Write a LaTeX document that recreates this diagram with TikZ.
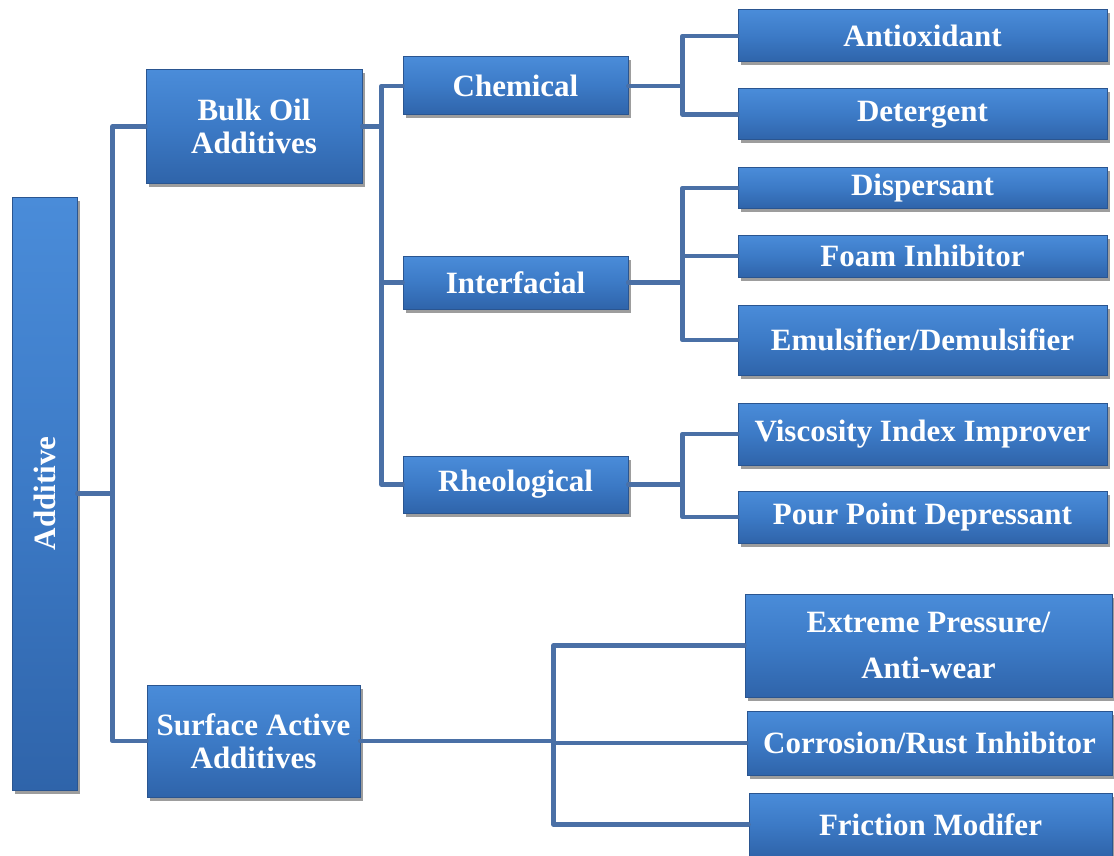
\documentclass[tikz,border=0pt]{standalone}
\usepackage{fontspec}
\setmainfont{Liberation Serif}
\usetikzlibrary{shadows}
\definecolor{boxtop}{HTML}{4A8CD9}
\definecolor{boxmid}{HTML}{3C7AC6}
\definecolor{boxbot}{HTML}{2F64AA}
\definecolor{boxedge}{HTML}{2A5590}
\definecolor{connc}{HTML}{4A70A6}
\tikzset{
  bx/.style={draw=boxedge, line width=1pt, top color=boxtop, bottom color=boxbot,
    middle color=boxmid,
    drop shadow={shadow xshift=2.5pt, shadow yshift=-3.5pt, fill=black!55, opacity=0.7},
    text=white, font=\fontsize{31}{33}\selectfont\bfseries, align=center, inner sep=0pt},
  conn/.style={draw=connc, line width=4.5pt, line join=round, line cap=round}
}
\begin{document}
\begin{tikzpicture}[x=1pt,y=-1pt]
\useasboundingbox (0,0) rectangle (1114,856);
% level 0
\node[bx, minimum width=65pt, minimum height=593pt] (add) at (44.5,493.5) {};
\node[text=white, font=\fontsize{31}{33}\selectfont\bfseries, rotate=90] (addt) at (add.center) {Additive};
% level 1
\node[bx, minimum width=216pt, minimum height=113pt] (bulk) at (254,126.5) {Bulk Oil\\Additives};
\node[bx, minimum width=213pt, minimum height=112pt] (surf) at (253.5,741) {Surface Active\\Additives};
% level 2
\node[bx, minimum width=225pt, minimum height=58pt] (chem) at (515.5,86) {Chemical};
\node[bx, minimum width=225pt, minimum height=53pt] (intf) at (515.5,282.5) {Interfacial};
\node[bx, minimum width=225pt, minimum height=57pt] (rheo) at (515.5,484.5) {Rheological};
% level 3
\node[bx, minimum width=369pt, minimum height=52pt] (anti) at (922.5,36) {Antioxidant};
\node[bx, minimum width=369pt, minimum height=51pt] (det) at (922.5,114.5) {Detergent};
\node[bx, minimum width=369pt, minimum height=40pt] (disp) at (922.5,188) {Dispersant};
\node[bx, minimum width=369pt, minimum height=42pt] (foam) at (922.5,256) {Foam Inhibitor};
\node[bx, minimum width=369pt, minimum height=70pt] (emul) at (922.5,340) {Emulsifier/Demulsifier};
\node[bx, minimum width=369pt, minimum height=62pt] (visc) at (922.5,434) {Viscosity Index Improver};
\node[bx, minimum width=369pt, minimum height=52pt] (pour) at (922.5,517) {Pour Point Depressant};
\node[bx, minimum width=367pt, minimum height=103pt, font=\fontsize{31}{46}\selectfont\bfseries] (ext) at (928.5,645.5) {Extreme Pressure/\\Anti-wear};
\node[bx, minimum width=365pt, minimum height=64pt] (corr) at (929.5,743) {Corrosion/Rust Inhibitor};
\node[bx, minimum width=363pt, minimum height=63pt] (fric) at (930.5,824.5) {Friction Modifer};
% connectors
\draw[conn] (add.east) -- ++(35,0) |- (bulk.west);
\draw[conn] (add.east) -- ++(35,0) |- (surf.west);
\draw[conn] (bulk.east) -- ++(19,0) |- (chem.west);
\draw[conn] (bulk.east) -- ++(19,0) |- (intf.west);
\draw[conn] (bulk.east) -- ++(19,0) |- (rheo.west);
\draw[conn] (chem.east) -- ++(54,0) |- (anti.west);
\draw[conn] (chem.east) -- ++(54,0) |- (det.west);
\draw[conn] (intf.east) -- ++(54,0) |- (disp.west);
\draw[conn] (intf.east) -- ++(54,0) |- (foam.west);
\draw[conn] (intf.east) -- ++(54,0) |- (emul.west);
\draw[conn] (rheo.east) -- ++(54,0) |- (visc.west);
\draw[conn] (rheo.east) -- ++(54,0) |- (pour.west);
\draw[conn] (surf.east) -- ++(193,0) |- (ext.west);
\draw[conn] (surf.east) -- ++(193,0) |- (corr.west);
\draw[conn] (surf.east) -- ++(193,0) |- (fric.west);
\end{tikzpicture}
\end{document}
